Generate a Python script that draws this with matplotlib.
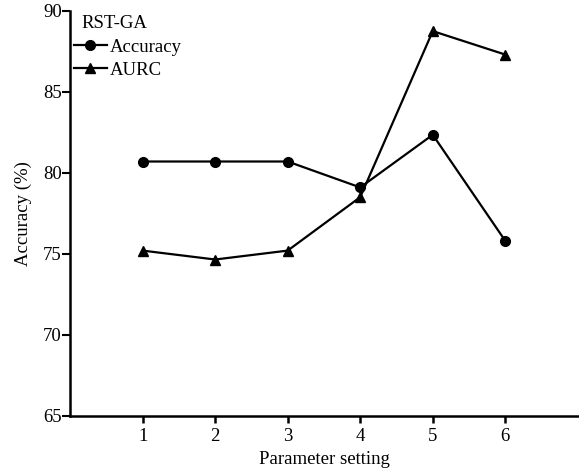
import numpy as np
import matplotlib
matplotlib.use("Agg")
import matplotlib.pyplot as plt

plt.rcParams['font.family'] = ['Liberation Serif', 'DejaVu Serif']
plt.rcParams['font.size'] = 13.5

# значення
settings = [1, 2, 3, 4, 5, 6]
accuracy = [80.7, 80.7, 80.7, 79.1, 82.35, 75.8]
aurc = [75.2, 74.65, 75.2, 78.5, 88.75, 87.3]
yticks = [65, 70, 75, 80, 85, 90]

fig = plt.figure(figsize=(5.79, 4.72), dpi=100)
ax = fig.add_axes([0.121, 0.119, 0.877, 0.858])

ax.plot(settings, accuracy, color='black', lw=1.6, marker='o', ms=7, label='Accuracy')
ax.plot(settings, aurc, color='black', lw=1.6, marker='^', ms=7.5, label='AURC')

ax.set_xlim(0, 7)
ax.set_ylim(65, 90)
ax.set_xticks(settings)
ax.set_yticks(yticks)
ax.spines['top'].set_visible(False)
ax.spines['right'].set_visible(False)
ax.spines['left'].set_linewidth(1.8)
ax.spines['bottom'].set_linewidth(1.8)
ax.tick_params(axis='x', direction='out', length=5, width=1.8, pad=4)
ax.tick_params(axis='y', direction='out', length=5.5, width=1.5, pad=0.5)

ax.set_xlabel('Parameter setting', labelpad=4)
ax.set_ylabel('Accuracy (%)', labelpad=8)

# заголовок легенди окремим текстом, трохи зсунутий праворуч
ax.text(0.022, 0.968, 'RST-GA', transform=ax.transAxes, ha='left', va='center')
leg = ax.legend(loc='upper left', bbox_to_anchor=(0.0, 0.94), frameon=False,
                handlelength=1.75, handletextpad=0.15, borderaxespad=0.1,
                labelspacing=0.3, borderpad=0.1)

fig.savefig('out.png', dpi=100)
